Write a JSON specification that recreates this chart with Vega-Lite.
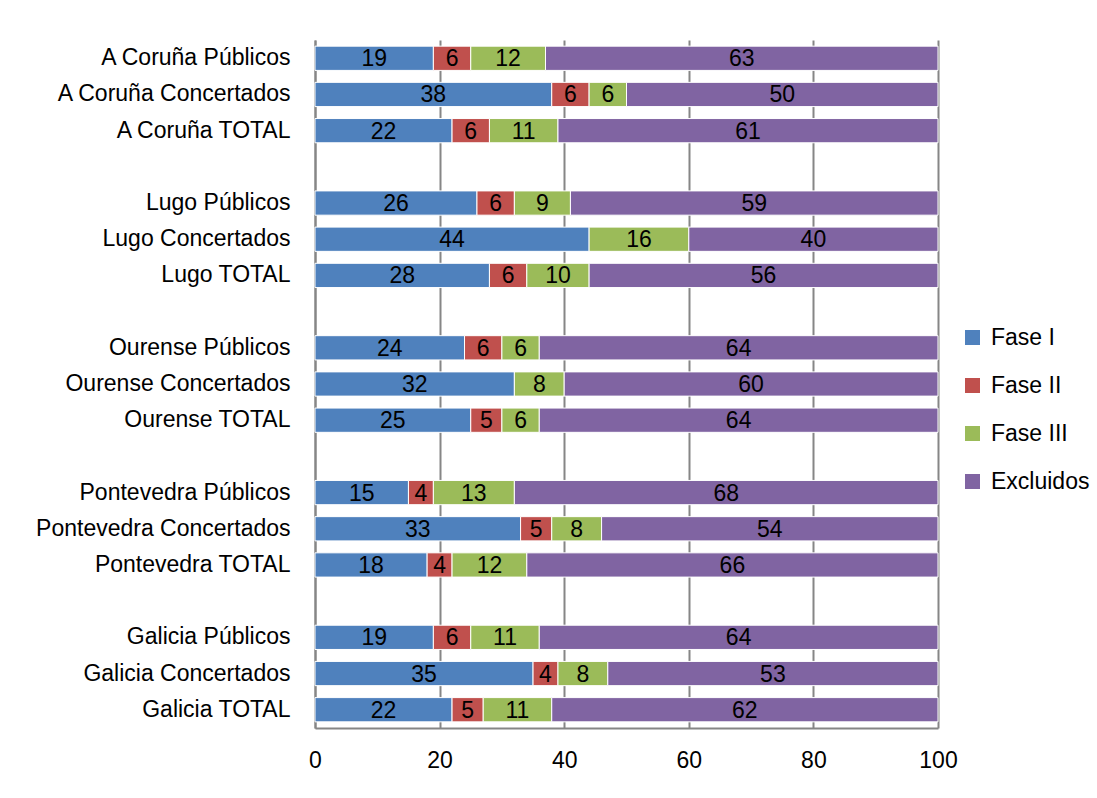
{
  "$schema": "https://vega.github.io/schema/vega-lite/v6.json",
  "width": 623,
  "height": 688,
  "autosize": "none",
  "padding": {"left": 315, "top": 40, "right": 159, "bottom": 70},
  "background": "white",
  "config": {
    "font": "Liberation Sans",
    "view": {"stroke": null},
    "axis": {"labelColor": "black", "labelFont": "Liberation Sans", "labelFontSize": 23, "labelLimit": 400}
  },
  "data": {
    "values": [
      {"cat": "A Coruña Públicos", "fase": "Fase I", "ord": 1, "value": 19},
      {"cat": "A Coruña Públicos", "fase": "Fase II", "ord": 2, "value": 6},
      {"cat": "A Coruña Públicos", "fase": "Fase III", "ord": 3, "value": 12},
      {"cat": "A Coruña Públicos", "fase": "Excluidos", "ord": 4, "value": 63},
      {"cat": "A Coruña Concertados", "fase": "Fase I", "ord": 1, "value": 38},
      {"cat": "A Coruña Concertados", "fase": "Fase II", "ord": 2, "value": 6},
      {"cat": "A Coruña Concertados", "fase": "Fase III", "ord": 3, "value": 6},
      {"cat": "A Coruña Concertados", "fase": "Excluidos", "ord": 4, "value": 50},
      {"cat": "A Coruña TOTAL", "fase": "Fase I", "ord": 1, "value": 22},
      {"cat": "A Coruña TOTAL", "fase": "Fase II", "ord": 2, "value": 6},
      {"cat": "A Coruña TOTAL", "fase": "Fase III", "ord": 3, "value": 11},
      {"cat": "A Coruña TOTAL", "fase": "Excluidos", "ord": 4, "value": 61},
      {"cat": "Lugo Públicos", "fase": "Fase I", "ord": 1, "value": 26},
      {"cat": "Lugo Públicos", "fase": "Fase II", "ord": 2, "value": 6},
      {"cat": "Lugo Públicos", "fase": "Fase III", "ord": 3, "value": 9},
      {"cat": "Lugo Públicos", "fase": "Excluidos", "ord": 4, "value": 59},
      {"cat": "Lugo Concertados", "fase": "Fase I", "ord": 1, "value": 44},
      {"cat": "Lugo Concertados", "fase": "Fase III", "ord": 3, "value": 16},
      {"cat": "Lugo Concertados", "fase": "Excluidos", "ord": 4, "value": 40},
      {"cat": "Lugo TOTAL", "fase": "Fase I", "ord": 1, "value": 28},
      {"cat": "Lugo TOTAL", "fase": "Fase II", "ord": 2, "value": 6},
      {"cat": "Lugo TOTAL", "fase": "Fase III", "ord": 3, "value": 10},
      {"cat": "Lugo TOTAL", "fase": "Excluidos", "ord": 4, "value": 56},
      {"cat": "Ourense Públicos", "fase": "Fase I", "ord": 1, "value": 24},
      {"cat": "Ourense Públicos", "fase": "Fase II", "ord": 2, "value": 6},
      {"cat": "Ourense Públicos", "fase": "Fase III", "ord": 3, "value": 6},
      {"cat": "Ourense Públicos", "fase": "Excluidos", "ord": 4, "value": 64},
      {"cat": "Ourense Concertados", "fase": "Fase I", "ord": 1, "value": 32},
      {"cat": "Ourense Concertados", "fase": "Fase III", "ord": 3, "value": 8},
      {"cat": "Ourense Concertados", "fase": "Excluidos", "ord": 4, "value": 60},
      {"cat": "Ourense TOTAL", "fase": "Fase I", "ord": 1, "value": 25},
      {"cat": "Ourense TOTAL", "fase": "Fase II", "ord": 2, "value": 5},
      {"cat": "Ourense TOTAL", "fase": "Fase III", "ord": 3, "value": 6},
      {"cat": "Ourense TOTAL", "fase": "Excluidos", "ord": 4, "value": 64},
      {"cat": "Pontevedra Públicos", "fase": "Fase I", "ord": 1, "value": 15},
      {"cat": "Pontevedra Públicos", "fase": "Fase II", "ord": 2, "value": 4},
      {"cat": "Pontevedra Públicos", "fase": "Fase III", "ord": 3, "value": 13},
      {"cat": "Pontevedra Públicos", "fase": "Excluidos", "ord": 4, "value": 68},
      {"cat": "Pontevedra Concertados", "fase": "Fase I", "ord": 1, "value": 33},
      {"cat": "Pontevedra Concertados", "fase": "Fase II", "ord": 2, "value": 5},
      {"cat": "Pontevedra Concertados", "fase": "Fase III", "ord": 3, "value": 8},
      {"cat": "Pontevedra Concertados", "fase": "Excluidos", "ord": 4, "value": 54},
      {"cat": "Pontevedra TOTAL", "fase": "Fase I", "ord": 1, "value": 18},
      {"cat": "Pontevedra TOTAL", "fase": "Fase II", "ord": 2, "value": 4},
      {"cat": "Pontevedra TOTAL", "fase": "Fase III", "ord": 3, "value": 12},
      {"cat": "Pontevedra TOTAL", "fase": "Excluidos", "ord": 4, "value": 66},
      {"cat": "Galicia Públicos", "fase": "Fase I", "ord": 1, "value": 19},
      {"cat": "Galicia Públicos", "fase": "Fase II", "ord": 2, "value": 6},
      {"cat": "Galicia Públicos", "fase": "Fase III", "ord": 3, "value": 11},
      {"cat": "Galicia Públicos", "fase": "Excluidos", "ord": 4, "value": 64},
      {"cat": "Galicia Concertados", "fase": "Fase I", "ord": 1, "value": 35},
      {"cat": "Galicia Concertados", "fase": "Fase II", "ord": 2, "value": 4},
      {"cat": "Galicia Concertados", "fase": "Fase III", "ord": 3, "value": 8},
      {"cat": "Galicia Concertados", "fase": "Excluidos", "ord": 4, "value": 53},
      {"cat": "Galicia TOTAL", "fase": "Fase I", "ord": 1, "value": 22},
      {"cat": "Galicia TOTAL", "fase": "Fase II", "ord": 2, "value": 5},
      {"cat": "Galicia TOTAL", "fase": "Fase III", "ord": 3, "value": 11},
      {"cat": "Galicia TOTAL", "fase": "Excluidos", "ord": 4, "value": 62}
    ]
  },
  "transform": [
    {"stack": "value", "groupby": ["cat"], "sort": [{"field": "ord"}], "as": ["v0", "v1"]},
    {"calculate": "(datum.v0 + datum.v1) / 2", "as": "mid"}
  ],
  "encoding": {
    "y": {
      "field": "cat",
      "type": "nominal",
      "title": null,
      "scale": {
        "domain": ["A Coruña Públicos", "A Coruña Concertados", "A Coruña TOTAL", " ",
                   "Lugo Públicos", "Lugo Concertados", "Lugo TOTAL", "  ",
                   "Ourense Públicos", "Ourense Concertados", "Ourense TOTAL", "   ",
                   "Pontevedra Públicos", "Pontevedra Concertados", "Pontevedra TOTAL", "    ",
                   "Galicia Públicos", "Galicia Concertados", "Galicia TOTAL"],
        "paddingInner": 0.33,
        "paddingOuter": 0.17
      },
      "axis": {"ticks": false, "domainColor": "#868686", "domainWidth": 2, "labelPadding": 25, "grid": false}
    }
  },
  "layer": [
    {
      "mark": {"type": "bar", "stroke": "white", "strokeWidth": 1},
      "encoding": {
        "x": {
          "field": "v0", "type": "quantitative", "title": null,
          "scale": {"domain": [0, 100], "nice": false},
          "axis": {"values": [0, 20, 40, 60, 80, 100], "grid": true, "gridColor": "#868686", "gridWidth": 2, "ticks": false, "domainColor": "#868686", "domainWidth": 2, "labelPadding": 21, "labelFlush": false}
        },
        "x2": {"field": "v1"},
        "color": {
          "field": "fase", "type": "nominal",
          "scale": {"domain": ["Fase I", "Fase II", "Fase III", "Excluidos"], "range": ["#4F81BD", "#C0504D", "#9BBB59", "#8064A2"]},
          "legend": {"title": null, "orient": "none", "legendX": 646, "legendY": 286, "symbolType": "square", "symbolSize": 225, "symbolStrokeWidth": 0, "labelFontSize": 23, "labelColor": "black", "labelFont": "Liberation Sans", "rowPadding": 24, "labelOffset": 7}
        }
      }
    },
    {
      "mark": {"type": "text", "fontSize": 23, "color": "black", "font": "Liberation Sans", "baseline": "middle", "dy": 1},
      "encoding": {
        "x": {"field": "mid", "type": "quantitative"},
        "text": {"field": "value", "type": "quantitative"}
      }
    }
  ]
}
